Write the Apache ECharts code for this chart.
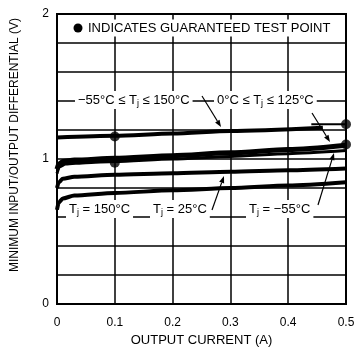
<!DOCTYPE html>
<html><head><meta charset="utf-8">
<script src="https://cdn.jsdelivr.net/npm/echarts@6/dist/echarts.min.js"></script>
<style>html,body{margin:0;padding:0;background:#fff}#c{width:357px;height:349px}</style>
</head><body><div id="c"></div>
<script>
// ---- data ----
const xTickLabels = ['0', '0.1', '0.2', '0.3', '0.4', '0.5'];
const yTickLabels = ['0', '1', '2'];
// guaranteed, -55°C <= Tj <= 150°C
const guarWide = [[0, 1.148], [0.1, 1.16], [0.2, 1.176], [0.3, 1.193], [0.46, 1.215]];
const guarWideEnd = [[0.44, 1.24], [0.5, 1.24]];
// guaranteed, 0°C <= Tj <= 125°C
const guarNarrow = [[0, 0.93], [0.003, 0.965], [0.01, 0.982], [0.03, 0.993], [0.1, 1.005], [0.2, 1.023], [0.3, 1.043], [0.4, 1.065], [0.5, 1.095]];
// typical curves
const typM55 = [[0, 0.9], [0.004, 0.945], [0.015, 0.965], [0.05, 0.975], [0.1, 0.983], [0.2, 1.0], [0.3, 1.018], [0.4, 1.037], [0.5, 1.058]];
const typ25 = [[0, 0.8], [0.003, 0.84], [0.01, 0.863], [0.03, 0.878], [0.1, 0.892], [0.2, 0.902], [0.3, 0.912], [0.4, 0.923], [0.5, 0.935]];
const typ150 = [[0, 0.65], [0.003, 0.7], [0.01, 0.728], [0.03, 0.748], [0.1, 0.766], [0.2, 0.784], [0.3, 0.8], [0.4, 0.818], [0.5, 0.84]];
const testPoints = [[0.1, 1.155], [0.5, 1.24], [0.1, 0.975], [0.5, 1.10]];

const F = '"Liberation Sans","Arial",sans-serif';
const chart = echarts.init(document.getElementById('c'), null, {renderer: 'canvas'});

function arrow(x1, y1, x2, y2) {
  const dx = x2 - x1, dy = y2 - y1, L = Math.hypot(dx, dy), ux = dx / L, uy = dy / L;
  const hl = 7, hw = 2.6;
  const bx = x2 - ux * hl, by = y2 - uy * hl;
  return [
    {type: 'line', z: 30, shape: {x1, y1, x2: bx, y2: by}, style: {stroke: '#000', lineWidth: 1.2}},
    {type: 'polygon', z: 30, shape: {points: [[x2, y2], [bx - uy * hw, by + ux * hw], [bx + uy * hw, by - ux * hw]]}, style: {fill: '#000'}}
  ];
}
const rich = {
  b: {fontFamily: F, fontSize: 13, color: '#000', lineHeight: 16, verticalAlign: 'middle'},
  s: {fontFamily: F, fontSize: 9, color: '#000', lineHeight: 16, verticalAlign: 'bottom', padding: [5, 0, 0, 0]}
};
function label(text, x, y, align) {
  return {type: 'text', z: 5, x, y, style: {
    text, rich, fontFamily: F, fontSize: 13, fill: '#000', align: align || 'left', verticalAlign: 'middle',
    backgroundColor: '#fff', padding: [1, 3]
  }};
}

const lineSeries = (data, w) => ({
  type: 'line', data, showSymbol: false, symbol: 'none', smooth: 0.25, smoothMonotone: 'x',
  lineStyle: {color: '#000', width: w}, z: 10, silent: true
});

chart.setOption({
  animation: false,
  backgroundColor: '#fff',
  grid: {left: 57, right: 11, top: 14, bottom: 45, containLabel: false, outerBoundsMode: 'none',
    show: true, borderColor: '#000', borderWidth: 2, backgroundColor: 'transparent'},
  xAxis: {
    type: 'value', min: 0, max: 0.5, interval: 0.1,
    axisLine: {show: false}, axisTick: {show: false},
    axisLabel: {color: '#000', fontFamily: F, fontSize: 12, margin: 13, formatter: v => xTickLabels[Math.round(v * 10)]},
    splitLine: {show: true, lineStyle: {color: '#000', width: 1.5}},
    name: 'OUTPUT CURRENT (A)', nameLocation: 'middle', nameGap: 27,
    nameTextStyle: {color: '#000', fontFamily: F, fontSize: 13}
  },
  yAxis: {
    type: 'value', min: 0, max: 2, interval: 0.2,
    axisLine: {show: false}, axisTick: {show: false},
    axisLabel: {color: '#000', fontFamily: F, fontSize: 12, margin: 8, formatter: v => {
      const r = Math.round(v * 10); return r % 10 === 0 ? yTickLabels[r / 10] : ''; }},
    splitLine: {show: true, lineStyle: {color: '#000', width: 1.5}}
  },
  series: [
    lineSeries(guarWide, 4),
    lineSeries(guarWideEnd, 2),
    lineSeries(guarNarrow, 5),
    lineSeries(typM55, 3),
    lineSeries(typ25, 4),
    lineSeries(typ150, 4),
    {type: 'scatter', data: testPoints, symbol: 'circle', symbolSize: 10, itemStyle: {color: '#000'}, z: 12, silent: true}
  ],
  graphic: [
    {type: 'text', z: 5, x: 15, y: 145, rotation: Math.PI / 2, style: {text: 'MINIMUM INPUT/OUTPUT DIFFERENTIAL (V)', fontFamily: F, fontSize: 12, fill: '#000', align: 'center', verticalAlign: 'middle'}},
    {type: 'circle', z: 6, shape: {cx: 78, cy: 28, r: 4.5}, style: {fill: '#000'}},
    {type: 'text', z: 5, x: 85, y: 28, style: {text: 'INDICATES GUARANTEED TEST POINT', fontFamily: F, fontSize: 13, fill: '#000', verticalAlign: 'middle', backgroundColor: '#fff', padding: [2, 3]}},
    label('{b|−55°C ≤ T}{s|j}{b| ≤ 150°C}', 75, 100),
    label('{b|0°C ≤ T}{s|j}{b| ≤ 125°C}', 214, 100),
    label('{b|T}{s|j}{b| = 150°C}', 66, 209),
    label('{b|T}{s|j}{b| = 25°C}', 150, 209),
    label('{b|T}{s|j}{b| = −55°C}', 246, 209),
    ...arrow(202, 96, 221, 127),
    ...arrow(312, 113, 330, 142),
    ...arrow(212, 210, 224, 176),
    ...arrow(318, 205, 334, 153)
  ]
});
</script></body></html>
